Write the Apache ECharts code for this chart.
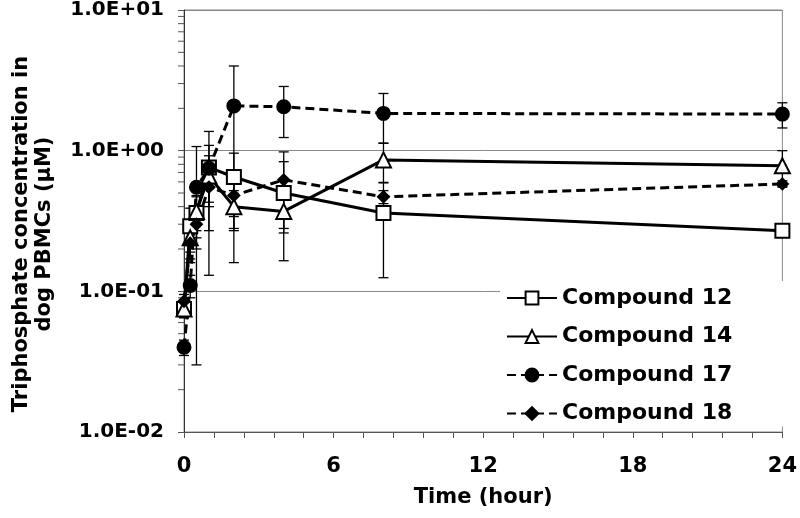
<!DOCTYPE html>
<html><head><meta charset="utf-8">
<script src="https://cdn.jsdelivr.net/npm/echarts@6/dist/echarts.min.js"></script>
<style>html,body{margin:0;padding:0;background:#fff}#c{width:800px;height:518px}</style>
</head><body><div id="c"></div>
<script>
const times = [0, 0.25, 0.5, 1, 2, 4, 8, 24];
const names = ['Compound 12', 'Compound 14', 'Compound 17', 'Compound 18'];
const c12 = [0.075, 0.29, 0.36, 0.76, 0.65, 0.50, 0.36, 0.27];
const c12err = [0.01, 0.10, 0.12, 0.33, 0.31, 0.335, 0.235, 0.02];
const c14 = [0.075, 0.24, 0.37, 0.66, 0.40, 0.37, 0.86, 0.78];
const c14err = [0.01, 0.08, 0.10, 0.26, 0.12, 0.09, 0.27, 0.22];
const c17 = [0.040, 0.11, 0.55, 0.75, 2.08, 2.05, 1.84, 1.82];
const c17err = [0.005, 0.02, 0.52, 0.62, 1.92, 0.81, 0.71, 0.37];
const c18 = [0.085, 0.22, 0.30, 0.55, 0.48, 0.62, 0.47, 0.58];
const c18err = [0.01, 0.05, 0.10, 0.28, 0.21, 0.36, 0.05, 0.03];
const yTickLabels = ['1.0E-02', '1.0E-01', '1.0E+00', '1.0E+01'];
const yMinorTicks = [0.02,0.03,0.04,0.05,0.06,0.07,0.08,0.09,0.2,0.3,0.4,0.5,0.6,0.7,0.8,0.9,2,3,4,5,6,7,8,9];

const FONT = '"DejaVu Sans", sans-serif';
const chart = echarts.init(document.getElementById('c'), null, {renderer: 'canvas'});

function errSeries(vals, errs) {
  return {
    type: 'custom', silent: true, z: 1,
    data: times.map((t, i) => [t, vals[i] - errs[i], vals[i] + errs[i]]),
    encode: {x: 0, y: [1, 2]},
    renderItem(params, api) {
      const t = api.value(0), lo = api.value(1), hi = api.value(2);
      const p1 = api.coord([t, hi]), p2 = api.coord([t, lo]);
      const w = 5, st = {stroke: '#000', lineWidth: 1.3};
      return {type: 'group', children: [
        {type: 'line', shape: {x1: p1[0], y1: p1[1], x2: p2[0], y2: p2[1]}, style: st},
        {type: 'line', shape: {x1: p1[0] - w, y1: p1[1], x2: p1[0] + w, y2: p1[1]}, style: st},
        {type: 'line', shape: {x1: p2[0] - w, y1: p2[1], x2: p2[0] + w, y2: p2[1]}, style: st}
      ]};
    }
  };
}

function lineSeries(name, vals, symbol, size, fill, dashed) {
  return {
    name, type: 'line', z: 3,
    data: times.map((t, i) => [t, vals[i]]),
    symbol, symbolSize: size, showAllSymbol: true,
    lineStyle: {color: '#000', width: 3, type: dashed ? [9, 5] : 'solid'},
    itemStyle: {color: fill, borderColor: '#000', borderWidth: 2},
    emphasis: {disabled: true}
  };
}

const option = {
  animation: false,
  backgroundColor: '#fff',
  grid: {left: 184, right: 10, top: 9, bottom: 86, show: true, borderColor: '#888', borderWidth: 1},
  legend: {
    data: names, orient: 'vertical', left: 500, top: 281,
    padding: [6, 62, 2, 6], backgroundColor: '#fff', z: 10,
    itemWidth: 50, itemHeight: 16, itemGap: 16.5, itemTextGap: 6,
    textStyle: {fontFamily: FONT, fontWeight: 'bold', fontSize: 22, color: '#000', lineHeight: 22}
  },
  xAxis: {
    type: 'value', min: 0, max: 24, interval: 6,
    name: 'Time (hour)', nameLocation: 'middle', nameGap: 55,
    nameTextStyle: {fontFamily: FONT, fontWeight: 'bold', fontSize: 21, color: '#000'},
    axisLine: {lineStyle: {color: '#555', width: 1}},
    axisTick: {show: true, inside: false, length: 6, lineStyle: {color: '#555'}},
    minorTick: {show: true, splitNumber: 5, length: 6, lineStyle: {color: '#555'}},
    splitLine: {show: false},
    axisLabel: {fontFamily: FONT, fontWeight: 'bold', fontSize: 21, color: '#000', margin: 24}
  },
  yAxis: {
    type: 'log', logBase: 10, min: 0.01, max: 10,
    name: 'Triphosphate concentration in\ndog PBMCs (μM)', nameLocation: 'middle', nameGap: 128,
    nameTextStyle: {fontFamily: FONT, fontWeight: 'bold', fontSize: 21, color: '#000', lineHeight: 23, padding: [0, 26, 0, 0]},
    axisLine: {show: true, lineStyle: {color: '#333', width: 1}},
    axisTick: {show: true, inside: false, length: 6, lineStyle: {color: '#555'}},
    splitLine: {show: true, lineStyle: {color: '#888', width: 1}},
    axisLabel: {
      fontFamily: FONT, fontWeight: 'bold', fontSize: 20, color: '#000', margin: 20,
      formatter: v => yTickLabels[Math.round(Math.log10(v)) + 2]
    }
  },
  series: [
    {
      type: 'custom', silent: true, z: 2, clip: false,
      data: yMinorTicks.map(v => [0, v]),
      encode: {x: 0, y: 1},
      renderItem(params, api) {
        const p = api.coord([api.value(0), api.value(1)]);
        return {type: 'line', shape: {x1: p[0] - 6, y1: p[1], x2: p[0], y2: p[1]}, style: {stroke: '#555', lineWidth: 1}};
      }
    },
    errSeries(c12, c12err),
    errSeries(c14, c14err),
    errSeries(c17, c17err),
    errSeries(c18, c18err),
    lineSeries(names[0], c12, 'rect', 14, '#fff', false),
    lineSeries(names[1], c14, 'triangle', 15, '#fff', false),
    lineSeries(names[2], c17, 'circle', 13, '#000', true),
    lineSeries(names[3], c18, 'diamond', 11, '#000', true)
  ]
};
chart.setOption(option);
</script>
</body></html>
